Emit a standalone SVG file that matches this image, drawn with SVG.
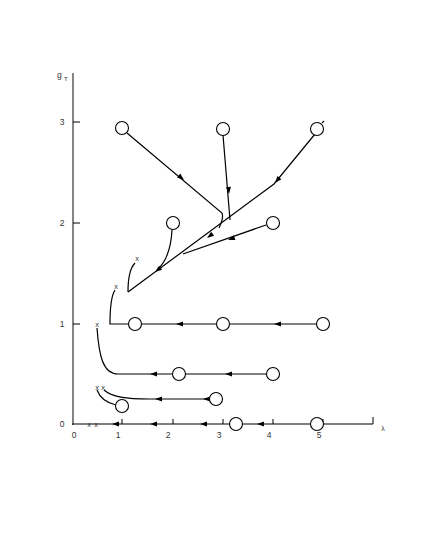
<svg xmlns="http://www.w3.org/2000/svg" width="428" height="554" viewBox="0 0 428 554">
<style>
.ln{fill:none;stroke:#000;stroke-width:1.2}
.ax{fill:none;stroke:#777;stroke-width:1.8}
.tk{fill:none;stroke:#000;stroke-width:1}
.nd{fill:#fff;stroke:#000;stroke-width:1.1}
.lb{font-family:"Liberation Sans",Arial,sans-serif;font-size:8.5px;fill:#333}
.ah{fill:#000}
</style>
<defs>
<path id="a" class="ah" d="M0,0 L-7,-2.5 L-7,2.5 Z"/>
</defs>
<rect width="428" height="554" fill="#fff"/>
<g id="axes">
<line class="ax" x1="73" y1="73" x2="73" y2="425"/>
<line class="tk" x1="73" y1="122" x2="80" y2="122"/>
<line class="tk" x1="73" y1="223" x2="80" y2="223"/>
<line class="tk" x1="73" y1="324" x2="80" y2="324"/>
<line class="ln" x1="72" y1="424" x2="373" y2="424"/>
<line class="tk" x1="122" y1="424" x2="122" y2="419"/>
<line class="tk" x1="173" y1="424" x2="173" y2="419"/>
<line class="tk" x1="223" y1="424" x2="223" y2="419"/>
<line class="tk" x1="273" y1="424" x2="273" y2="419"/>
<line class="tk" x1="323" y1="424" x2="323" y2="419"/>
<line class="tk" x1="373" y1="424" x2="373" y2="417"/>
<text class="lb" x="57" y="78">g</text>
<text class="lb" x="64" y="81" style="font-size:6px">T</text>
<text class="lb" x="62" y="125" text-anchor="middle">3</text>
<text class="lb" x="62" y="226" text-anchor="middle">2</text>
<text class="lb" x="62" y="327" text-anchor="middle">1</text>
<text class="lb" x="62" y="427" text-anchor="middle">0</text>
<text class="lb" x="74" y="438" text-anchor="middle">0</text>
<text class="lb" x="118" y="438" text-anchor="middle">1</text>
<text class="lb" x="168" y="438" text-anchor="middle">2</text>
<text class="lb" x="219" y="438" text-anchor="middle">3</text>
<text class="lb" x="269" y="438" text-anchor="middle">4</text>
<text class="lb" x="319" y="438" text-anchor="middle">5</text>
<text class="lb" x="383" y="431" text-anchor="middle" style="font-size:7px">λ</text>
</g>
<g id="connectors">
<path class="ln" d="M127,133 L222,213 Q224,218 219,228"/>
<path class="ln" d="M223,135 L230,220"/>
<path class="ln" d="M315,134 L274,184 L128,292"/>
<path class="ln" d="M266,225 L183,254"/>
<path class="ln" d="M172,230 C171,250 166,262 157,270"/>
<path class="ln" d="M135,263 C130,268 128,280 128,292"/>
<path class="ln" d="M115,290 C111,296 110,310 110,324 L317,324"/>
<path class="ln" d="M97,328 C99,356 103,374 118,374 L267,374"/>
<path class="ln" d="M104,390 C112,397 125,399 150,399 L210,399"/>
<path class="ln" d="M97,390 C100,398 107,403 116,405"/>
<path class="ln" d="M322,123 L324,121"/>
<use href="#a" transform="translate(184,180) rotate(39.8)"/>
<use href="#a" transform="translate(229,194) rotate(85.3)"/>
<use href="#a" transform="translate(275,183) rotate(129)"/>
<use href="#a" transform="translate(207,238) rotate(143.6)"/>
<use href="#a" transform="translate(228,240) rotate(160.4)"/>
<use href="#a" transform="translate(155,272) rotate(143.6)"/>
<use href="#a" transform="translate(176,324) rotate(180)"/>
<use href="#a" transform="translate(274,324) rotate(180)"/>
<use href="#a" transform="translate(150,374) rotate(180)"/>
<use href="#a" transform="translate(225,374) rotate(180)"/>
<use href="#a" transform="translate(155,399) rotate(180)"/>
<use href="#a" transform="translate(203,399) rotate(180)"/>
<use href="#a" transform="translate(112,424) rotate(180)"/>
<use href="#a" transform="translate(150,424) rotate(180)"/>
<use href="#a" transform="translate(200,424) rotate(180)"/>
<use href="#a" transform="translate(257,424) rotate(180)"/>
</g>
<g id="marks" class="lb" text-anchor="middle" style="font-size:7.5px">
<text x="137" y="261">x</text>
<text x="116" y="289">x</text>
<text x="97" y="327">x</text>
<text x="97" y="390">x</text>
<text x="103" y="390">x</text>
<text x="89" y="427">x</text>
<text x="96" y="427">x</text>
</g>
<g id="n1"><circle class="nd" cx="122" cy="128" r="6.5"/></g>
<g id="n2"><circle class="nd" cx="223" cy="129" r="6.5"/></g>
<g id="n3"><circle class="nd" cx="317" cy="129" r="6.5"/></g>
<g id="n4"><circle class="nd" cx="173" cy="223" r="6.5"/></g>
<g id="n5"><circle class="nd" cx="273" cy="223" r="6.5"/></g>
<g id="n6"><circle class="nd" cx="135" cy="324" r="6.5"/></g>
<g id="n7"><circle class="nd" cx="223" cy="324" r="6.5"/></g>
<g id="n8"><circle class="nd" cx="323" cy="324" r="6.5"/></g>
<g id="n9"><circle class="nd" cx="179" cy="374" r="6.5"/></g>
<g id="n10"><circle class="nd" cx="273" cy="374" r="6.5"/></g>
<g id="n11"><circle class="nd" cx="216" cy="399" r="6.5"/></g>
<g id="n12"><circle class="nd" cx="122" cy="406" r="6.5"/></g>
<g id="n13"><circle class="nd" cx="236" cy="424" r="6.5"/></g>
<g id="n14"><circle class="nd" cx="317" cy="424" r="6.5"/></g>
</svg>
